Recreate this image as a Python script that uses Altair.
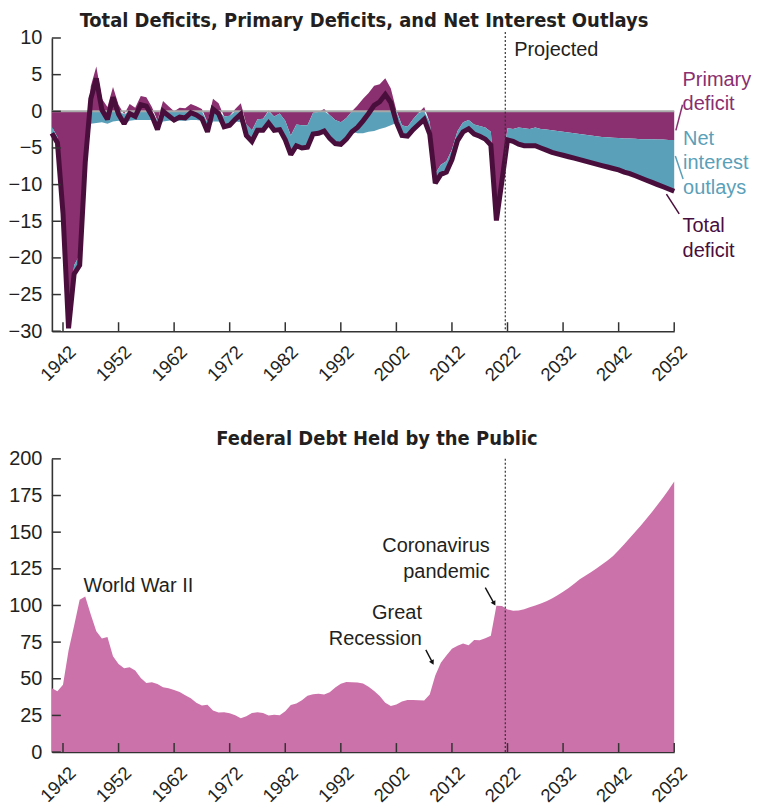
import altair as alt
import pandas as pd
import numpy as np

# ---------------- data ----------------
years = list(range(1940, 2053))

total_deficit = [
    -3.0, -4.3, -13.9, -29.6, -22.2, -21.0, -7.0, 1.7, 4.5, 0.2,      # 1940-49
    -1.1, 1.9, -0.4, -1.7, -0.3, -0.7, 0.9, 0.7, -0.6, -2.5,          # 1950-59
    0.0, -0.6, -1.2, -0.8, -0.9, -0.2, -0.5, -1.0, -2.8, 0.3,         # 1960-69
    -0.3, -2.1, -1.9, -1.1, -0.4, -3.3, -4.1, -2.6, -2.6, -1.6,       # 1970-79
    -2.6, -2.5, -3.9, -5.9, -4.7, -5.0, -4.9, -3.1, -3.0, -2.7,       # 1980-89
    -3.7, -4.4, -4.5, -3.8, -2.8, -2.2, -1.3, -0.3, 0.8, 1.3,         # 1990-99
    2.3, 1.2, -1.5, -3.3, -3.4, -2.5, -1.8, -1.1, -3.1, -9.8,         # 2000-09
    -8.6, -8.3, -6.6, -4.0, -2.8, -2.4, -3.1, -3.4, -3.8, -4.6,       # 2010-19
    -14.9, -9.5, -3.9, -4.1, -4.5, -4.7, -4.7, -4.7, -5.0, -5.3,      # 2020-29
    -5.6, -5.8, -6.0, -6.2, -6.4, -6.6, -6.8, -7.0, -7.2, -7.4,       # 2030-39
    -7.6, -7.8, -8.0, -8.3, -8.5, -8.8, -9.1, -9.4, -9.7, -10.0,      # 2040-49
    -10.3, -10.6, -10.9,                                              # 2050-52
]

net_interest = [
    0.9, 0.8, 0.7, 0.9, 1.2, 1.4, 1.7, 1.7, 1.6, 1.5,
    1.7, 1.4, 1.3, 1.3, 1.3, 1.2, 1.2, 1.2, 1.2, 1.2,
    1.4, 1.3, 1.2, 1.3, 1.3, 1.2, 1.2, 1.3, 1.3, 1.4,
    1.4, 1.4, 1.3, 1.4, 1.5, 1.5, 1.5, 1.5, 1.6, 1.7,
    1.9, 2.2, 2.6, 2.6, 2.9, 3.1, 3.0, 2.9, 2.9, 3.0,
    3.2, 3.2, 3.0, 2.9, 2.8, 3.0, 3.0, 2.8, 2.7, 2.4,
    2.2, 1.9, 1.6, 1.4, 1.3, 1.4, 1.6, 1.7, 1.6, 1.3,
    1.3, 1.5, 1.4, 1.3, 1.3, 1.2, 1.3, 1.4, 1.6, 1.8,
    1.6, 1.6, 1.6, 1.7, 2.3, 2.4, 2.3, 2.5, 2.6, 2.8,
    3.0, 3.1, 3.2, 3.3, 3.4, 3.5, 3.6, 3.7, 3.8, 3.9,
    4.05, 4.2, 4.35, 4.6, 4.8, 5.05, 5.3, 5.6, 5.9, 6.15,
    6.45, 6.7, 7.0,
]

debt_held = [
    43.6, 41.5, 45.9, 69.2, 86.2, 103.9, 106.1, 93.9, 82.4, 77.4,
    78.5, 65.4, 60.1, 57.1, 57.9, 55.7, 50.6, 47.2, 47.7, 46.4,
    44.3, 43.5, 42.3, 41.0, 38.7, 36.7, 33.7, 31.8, 32.2, 28.3,
    27.0, 27.1, 26.4, 25.1, 23.1, 24.5, 26.7, 27.1, 26.6, 24.9,
    25.5, 25.2, 27.9, 32.1, 33.1, 35.3, 38.4, 39.5, 39.8, 39.3,
    40.8, 44.0, 46.6, 47.8, 47.7, 47.5, 46.8, 44.5, 41.6, 38.2,
    33.6, 31.4, 32.5, 34.5, 35.5, 35.6, 35.3, 35.2, 39.2, 52.3,
    60.9, 65.9, 70.4, 72.6, 74.1, 72.9, 76.4, 76.2, 77.6, 79.4,
    99.8, 99.6, 97.3, 96.4, 96.5, 97.4, 98.7, 99.9, 101.3, 102.8,
    104.8, 107.0, 109.4, 112.0, 114.8, 117.8, 120.2, 122.7, 125.3, 128.0,
    130.6, 133.8, 137.7, 141.8, 146.0, 150.3, 154.6, 159.1, 163.8, 168.7,
    173.7, 179.0, 184.5,
]

tick_years = [1942, 1952, 1962, 1972, 1982, 1992, 2002, 2012, 2022, 2032, 2042, 2052]
deficit_ticks = [10, 5, 0, -5, -10, -15, -20, -25, -30]
debt_ticks = [0, 25, 50, 75, 100, 125, 150, 175, 200]
projection_start = [2021.6]

deficit_labels = ["Primary\ndeficit", "Net\ninterest\noutlays", "Total\ndeficit"]
deficit_label_year = [2053.5, 2053.6, 2053.5]
deficit_label_value = [3.5, -4.6, -16.5]

leader_year = [2052.3, 2052.2, 2050.6]
leader_year2 = [2053.5, 2053.6, 2052.9]
leader_value = [-2.6, -6.1, -11.3]
leader_value2 = [0.9, -9.25, -14.0]

debt_notes = ["World War II", "Great\nRecession", "Coronavirus\npandemic"]
debt_note_year = [1945.7, 2006.6, 2018.8]
debt_note_value = [109.5, 90.7, 136.5]
debt_note_align = ["left", "right", "right"]

arrow_year = [2007.3, 2018.0]
arrow_year2 = [2008.5, 2019.6]
arrow_value = [69.7, 112.2]
arrow_value2 = [61.0, 101.3]
arrow_angle = [151.4, 150.5]

# ---------------- styling ----------------
W, H = 624, 294
FONT = "Liberation Sans, Arial, Helvetica, sans-serif"
TFONT = "Liberation Sans Narrow, Arial Narrow, DejaVu Sans Condensed, sans-serif"
PURPLE = "#8A2F6F"
TEAL = "#5BA0B9"
DARK = "#4A0E3C"
PINK = "#CC72AA"
AXIS = "#333333"
TEXT = "#231F20"

# ---------------- frames ----------------
df = pd.DataFrame({"year": years, "total": total_deficit, "interest": net_interest})
df["primary"] = df["total"] + df["interest"]
df["teal_top"] = np.minimum(df["primary"], 0)
df["teal_bot"] = df["teal_top"] - df["interest"]
df["zero"] = 0.0

debt_df = pd.DataFrame({"year": years, "debt": debt_held})

xticks_df = pd.DataFrame({"year": tick_years})
dticks_df = pd.DataFrame({"value": deficit_ticks})
bticks_df = pd.DataFrame({"value": debt_ticks})
proj_df = pd.DataFrame({"year": projection_start})

lab_df = pd.DataFrame({"year": deficit_label_year, "value": deficit_label_value,
                       "label": deficit_labels, "color": [PURPLE, TEAL, DARK]})
lead_df = pd.DataFrame({"year": leader_year, "year2": leader_year2,
                        "value": leader_value, "value2": leader_value2,
                        "color": [PURPLE, TEAL, DARK]})
note_df = pd.DataFrame({"year": debt_note_year, "value": debt_note_value,
                        "label": debt_notes, "align": debt_note_align})
arrow_df = pd.DataFrame({"year": arrow_year, "year2": arrow_year2,
                         "value": arrow_value, "value2": arrow_value2,
                         "angle": arrow_angle})

xscale = alt.Scale(domain=[1940, 2052], nice=False, zero=False)
xaxis = alt.Axis(values=tick_years, format="d", labelAngle=-45, labelAlign="right",
                 labelBaseline="top", labelPadding=11, labelOffset=3, tickSize=0,
                 labelFontSize=18.5, title=None, grid=False)


def X(field="year"):
    return alt.X(f"{field}:Q", scale=xscale, axis=xaxis)


# ---------------- top chart ----------------
yscale_d = alt.Scale(domain=[-30, 10], nice=False, zero=False)
yaxis_d = alt.Axis(values=deficit_ticks, tickSize=0, labelPadding=10, title=None, grid=False)


def YD(field):
    return alt.Y(f"{field}:Q", scale=yscale_d, axis=yaxis_d)


base = alt.Chart(df)
primary_area = base.mark_area(color=PURPLE, opacity=1).encode(
    x=X(), y=YD("primary"), y2="zero:Q")
interest_area = base.mark_area(color=TEAL, opacity=1).encode(
    x=X(), y=YD("teal_top"), y2="teal_bot:Q")
zero_rule = alt.Chart(pd.DataFrame({"value": [0]})).mark_rule(
    color="#A8A8A8", strokeWidth=2).encode(y=YD("value"))
total_line = base.mark_line(color=DARK, strokeWidth=5, strokeJoin="miter",
                            strokeMiterLimit=2).encode(x=X(), y=YD("total"))
proj_rule_top = alt.Chart(proj_df).mark_rule(
    color=AXIS, strokeWidth=1.2, strokeDash=[2, 2]).encode(
    x=X(), y=alt.value(-6), y2=alt.value(H))
proj_text = alt.Chart(pd.DataFrame({"year": [2023.2], "value": [7.6], "t": ["Projected"]})).mark_text(
    align="left", baseline="alphabetic", fontSize=20, font=FONT, color=TEXT).encode(
    x=X(), y=YD("value"), text="t:N")
labels_top = alt.Chart(lab_df).mark_text(
    align="left", baseline="alphabetic", fontSize=20, font=FONT, lineBreak="\n",
    lineHeight=24.5).encode(
    x=X(), y=YD("value"), text="label:N", color=alt.Color("color:N", scale=None))
leaders_top = alt.Chart(lead_df).mark_rule(strokeWidth=1.5).encode(
    x=X(), x2="year2:Q", y=YD("value"), y2="value2:Q",
    color=alt.Color("color:N", scale=None))
xticks_top = alt.Chart(xticks_df).mark_rule(color=AXIS, strokeWidth=1.5).encode(
    x=X(), y=alt.value(H), y2=alt.value(H - 9))
yticks_top = alt.Chart(dticks_df).mark_rule(color=AXIS, strokeWidth=1.5).encode(
    y=YD("value"), x=alt.value(0), x2=alt.value(9))

top = alt.layer(
    primary_area, interest_area, zero_rule, total_line, proj_rule_top, proj_text,
    labels_top, leaders_top, xticks_top, yticks_top
).properties(
    width=W, height=H,
    title=alt.TitleParams("Total Deficits, Primary Deficits, and Net Interest Outlays",
                          font=TFONT, fontSize=20, fontWeight="bold", color=TEXT,
                          anchor="middle", frame="group", offset=-3, dx=1),
)

# ---------------- bottom chart ----------------
yscale_b = alt.Scale(domain=[0, 200], nice=False, zero=True)
yaxis_b = alt.Axis(values=debt_ticks, tickSize=0, labelPadding=10, title=None, grid=False)


def YB(field):
    return alt.Y(f"{field}:Q", scale=yscale_b, axis=yaxis_b)


debt_area = alt.Chart(debt_df).mark_area(color=PINK, opacity=1).encode(
    x=X(), y=YB("debt"))
proj_rule_bot = alt.Chart(proj_df).mark_rule(
    color=AXIS, strokeWidth=1.2, strokeDash=[2, 2]).encode(
    x=X(), y=alt.value(0), y2=alt.value(H))
notes_left = alt.Chart(note_df[note_df["align"] == "left"]).mark_text(
    align="left", baseline="alphabetic", fontSize=20, font=FONT, color=TEXT,
    lineBreak="\n", lineHeight=26).encode(x=X(), y=YB("value"), text="label:N")
notes_right = alt.Chart(note_df[note_df["align"] == "right"]).mark_text(
    align="right", baseline="alphabetic", fontSize=20, font=FONT, color=TEXT,
    lineBreak="\n", lineHeight=26).encode(x=X(), y=YB("value"), text="label:N")
arrow_lines = alt.Chart(arrow_df).mark_rule(color="#111111", strokeWidth=1.4).encode(
    x=X(), x2="year2:Q", y=YB("value"), y2="value2:Q")
arrow_heads = alt.Chart(arrow_df).mark_point(
    shape="triangle-up", filled=True, color="#111111", size=30, opacity=1).encode(
    x=X("year2"), y=YB("value2"), angle=alt.Angle("angle:Q", scale=None))
xticks_bot = alt.Chart(xticks_df).mark_rule(color=AXIS, strokeWidth=1.5).encode(
    x=X(), y=alt.value(H), y2=alt.value(H - 9))
yticks_bot = alt.Chart(bticks_df).mark_rule(color=AXIS, strokeWidth=1.5).encode(
    y=YB("value"), x=alt.value(0), x2=alt.value(9))

bottom = alt.layer(
    debt_area, proj_rule_bot, notes_left, notes_right, arrow_lines, arrow_heads,
    xticks_bot, yticks_bot
).properties(
    width=W, height=H,
    title=alt.TitleParams("Federal Debt Held by the Public",
                          font=TFONT, fontSize=20, fontWeight="bold", color=TEXT,
                          anchor="middle", frame="group", offset=0, dx=14),
)

chart = alt.vconcat(top, bottom, spacing=44).properties(
    padding={"left": 0, "top": 2, "right": 0, "bottom": 0}
).configure_view(stroke=None).configure_axis(
    labelFont=FONT, labelFontSize=20, labelColor=TEXT,
    domainColor=AXIS, domainWidth=1.6,
)

chart.save("out.html", embed_options={"renderer": "svg", "actions": False})
